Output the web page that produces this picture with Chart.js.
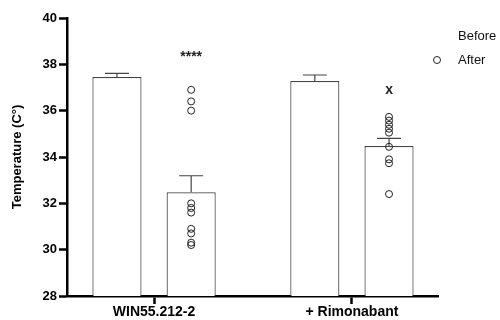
<!DOCTYPE html>
<html>
<head>
<meta charset="utf-8">
<title>Body temperature</title>
<script src="https://cdn.jsdelivr.net/npm/chart.js@4.4.1/dist/chart.umd.min.js"></script>
<style>
  html, body { margin: 0; padding: 0; background: #fff; }
</style>
</head>
<body>
<canvas id="tempChart" width="500" height="320"></canvas>
<script>
// groups on the x axis
const groups = ['WIN55.212-2', '+ Rimonabant'];

// bar heights (mean) and SEM
const beforeMean = [37.45, 37.28];
const beforeSem = [0.16, 0.26];
const afterMean = [32.48, 34.47];
const afterSem = [0.71, 0.33];

// individual animals, "after" measurement
const afterWin = [36.9, 36.4, 36.0, 32.0, 31.8, 31.6, 30.9, 30.7, 30.3, 30.2];
const afterRim = [35.73, 35.57, 35.39, 35.22, 35.05, 34.44, 33.9, 33.73, 32.4];

// significance marks above the "after" bars
const sigLabels = ['****', 'x'];
const sigLevels = [38.3, 36.9];

const yTicks = [28, 30, 32, 34, 36, 38, 40];

const FONT = '"Liberation Sans", Arial, sans-serif';
const CAT_PCT = 0.75;
// the "after" bar sits a quarter of the group width right of the group centre
const afterShift = CAT_PCT / 4;

const dotData = [afterWin, afterRim].flatMap((vals, g) =>
    vals.map(v => ({ x: g + afterShift, y: v })));

// error bars (mean + SEM, cap only on top)
const errorBars = {
    id: 'errorBars',
    beforeDatasetsDraw(chart) {
        const ctx = chart.ctx;
        const y = chart.scales.y;
        [[0, beforeMean, beforeSem], [1, afterMean, afterSem]].forEach(([di, means, sems]) => {
            chart.getDatasetMeta(di).data.forEach((bar, i) => {
                const top = y.getPixelForValue(means[i]);
                const tip = y.getPixelForValue(means[i] + sems[i]);
                ctx.save();
                ctx.strokeStyle = '#444';
                ctx.lineWidth = 1.2;
                ctx.beginPath();
                ctx.moveTo(bar.x, top);
                ctx.lineTo(bar.x, tip);
                ctx.moveTo(bar.x - 12, tip);
                ctx.lineTo(bar.x + 12, tip);
                ctx.stroke();
                ctx.restore();
            });
        });
    },
    afterDatasetsDraw(chart) {
        const ctx = chart.ctx;
        const y = chart.scales.y;
        ctx.save();
        ctx.font = 'bold 14px ' + FONT;
        ctx.fillStyle = '#222';
        ctx.textAlign = 'center';
        ctx.textBaseline = 'middle';
        chart.getDatasetMeta(1).data.forEach((bar, i) => {
            ctx.fillText(sigLabels[i], bar.x, y.getPixelForValue(sigLevels[i]));
        });
        ctx.restore();
    }
};

// legend: plain "Before", open circle for "After"
const sideLegend = {
    id: 'sideLegend',
    afterDraw(chart) {
        const ctx = chart.ctx;
        ctx.save();
        ctx.font = '13px ' + FONT;
        ctx.fillStyle = '#111';
        ctx.textBaseline = 'middle';
        ctx.fillText('Before', 458, 36);
        ctx.fillText('After', 458, 60);
        ctx.strokeStyle = '#222';
        ctx.lineWidth = 1;
        ctx.beginPath();
        ctx.arc(437, 60, 3.5, 0, Math.PI * 2);
        ctx.stroke();
        ctx.restore();
    }
};

new Chart(document.getElementById('tempChart'), {
    type: 'bar',
    data: {
        datasets: [
            {
                label: 'Before',
                data: beforeMean.map((v, i) => ({ x: i, y: v })),
                backgroundColor: '#fff',
                borderColor: '#444',
                borderWidth: 1.2,
                categoryPercentage: CAT_PCT,
                barPercentage: 0.662,
                order: 1
            },
            {
                label: 'After',
                data: afterMean.map((v, i) => ({ x: i, y: v })),
                backgroundColor: '#fff',
                borderColor: '#444',
                borderWidth: 1.2,
                categoryPercentage: CAT_PCT,
                barPercentage: 0.662,
                order: 1
            },
            {
                type: 'scatter',
                label: 'After (animals)',
                data: dotData,
                pointStyle: 'circle',
                pointRadius: 3.5,
                pointBorderWidth: 1,
                pointBorderColor: '#222',
                pointBackgroundColor: 'rgba(255,255,255,0)',
                order: 0
            }
        ]
    },
    options: {
        responsive: false,
        animation: false,
        layout: { padding: { top: 18, right: 62, bottom: 0, left: 0 } },
        plugins: {
            legend: { display: false },
            tooltip: { enabled: false }
        },
        scales: {
            x: {
                type: 'linear',
                min: -0.44,
                max: 1.435,
                offset: false,
                afterBuildTicks: s => { s.ticks = groups.map((g, i) => ({ value: i })); },
                afterFit: s => { s.height = 24; },
                ticks: {
                    callback: v => groups[v],
                    font: { family: FONT, size: 14, weight: 'bold' },
                    color: '#000',
                    padding: 0,
                    maxRotation: 0,
                    autoSkip: false
                },
                grid: { offset: false, drawOnChartArea: false, tickLength: 8, tickWidth: 2.5, tickColor: '#000' },
                border: { color: '#000', width: 2.5 }
            },
            y: {
                min: 28,
                max: 40,
                afterBuildTicks: s => { s.ticks = yTicks.map(v => ({ value: v })); },
                afterFit: s => { s.width = 67; },
                ticks: {
                    font: { family: FONT, size: 13, weight: 'bold' },
                    color: '#000',
                    padding: 2
                },
                grid: { drawOnChartArea: false, tickLength: 8, tickWidth: 2.5, tickColor: '#000' },
                border: { color: '#000', width: 2.5 },
                title: {
                    display: true,
                    text: 'Temperature (C°)',
                    font: { family: FONT, size: 13, weight: 'bold' },
                    color: '#000',
                    padding: { top: 10, bottom: 0 }
                }
            }
        }
    },
    plugins: [errorBars, sideLegend]
});
</script>
</body>
</html>
